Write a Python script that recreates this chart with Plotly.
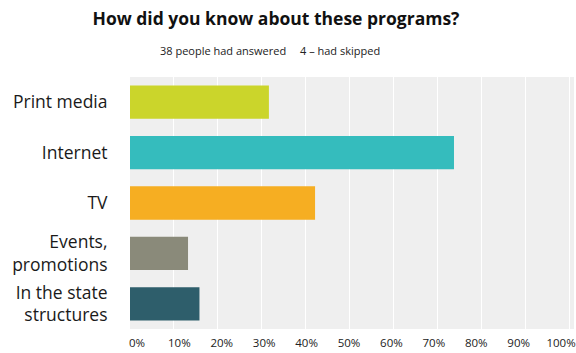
import plotly.graph_objects as go

# Survey answers (share of 38 respondents)
categories = ["Print media", "Internet", "TV", "Events,<br>promotions", "In the state<br>structures"]
shares = [31.6, 73.7, 42.1, 13.2, 15.8]
bar_colors = ["#cbd52b", "#35bcbd", "#f6ae22", "#8a8a7a", "#2e5e6b"]
tick_values = [0, 10, 20, 30, 40, 50, 60, 70, 80, 90, 100]
tick_labels = ["0%", "10%", "20%", "30%", "40%", "50%", "60%", "70%", "80%", "90%", "100%"]

FONT = "Open Sans"

fig = go.Figure()
fig.add_trace(go.Bar(
    y=categories,
    x=shares,
    orientation="h",
    marker=dict(color=bar_colors, line=dict(width=0)),
    width=0.66,
    hoverinfo="x+y",
))

# Invisible companion trace so the label axis is drawn
fig.add_trace(go.Scatter(
    x=[None], y=[None], xaxis="x2", yaxis="y",
    mode="markers", showlegend=False, hoverinfo="skip",
))

fig.update_layout(
    width=576,
    height=353,
    margin=dict(l=130, r=0, t=77, b=24),
    paper_bgcolor="white",
    plot_bgcolor="#efefef",
    showlegend=False,
    bargap=0.34,
    font=dict(family=FONT, color="#1a1a1a"),
    title=dict(
        text="<b>How did you know about these programs?</b>",
        font=dict(family=FONT, size=17.5, color="#111111"),
        xref="container", yref="container",
        x=276 / 576, y=1 - 19 / 353,
        xanchor="center", yanchor="middle",
    ),
    xaxis=dict(
        range=[0, 101],
        tickvals=tick_values,
        showticklabels=False,
        showgrid=True,
        gridcolor="white",
        gridwidth=1,
        zeroline=False,
        showline=False,
        fixedrange=True,
    ),
    xaxis2=dict(
        overlaying="x",
        anchor="y",
        side="bottom",
        range=[-1.64, 103.05],
        tickvals=tick_values,
        ticktext=tick_labels,
        showgrid=False,
        zeroline=False,
        showline=False,
        ticks="outside",
        ticklen=3,
        tickcolor="rgba(0,0,0,0)",
        ticklabeloverflow="allow",
        tickfont=dict(family=FONT, size=11.5, color="#222222"),
        fixedrange=True,
    ),
    yaxis=dict(
        categoryorder="array",
        categoryarray=categories,
        autorange="reversed",
        showgrid=False,
        zeroline=False,
        showline=False,
        ticks="outside",
        ticklen=18,
        tickcolor="rgba(0,0,0,0)",
        tickfont=dict(family=FONT, size=17.5, color="#1a1a1a"),
        fixedrange=True,
    ),
    annotations=[
        dict(text="38 people had answered", xref="paper", yref="paper",
             x=(223 - 130) / 446, y=1 + (77 - 51) / 252,
             xanchor="center", yanchor="middle", showarrow=False,
             font=dict(family=FONT, size=11, color="#222222")),
        dict(text="4 – had skipped", xref="paper", yref="paper",
             x=(341 - 130) / 446, y=1 + (77 - 51) / 252,
             xanchor="center", yanchor="middle", showarrow=False,
             font=dict(family=FONT, size=11, color="#222222")),
    ],
)

fig.write_html("out.html")
